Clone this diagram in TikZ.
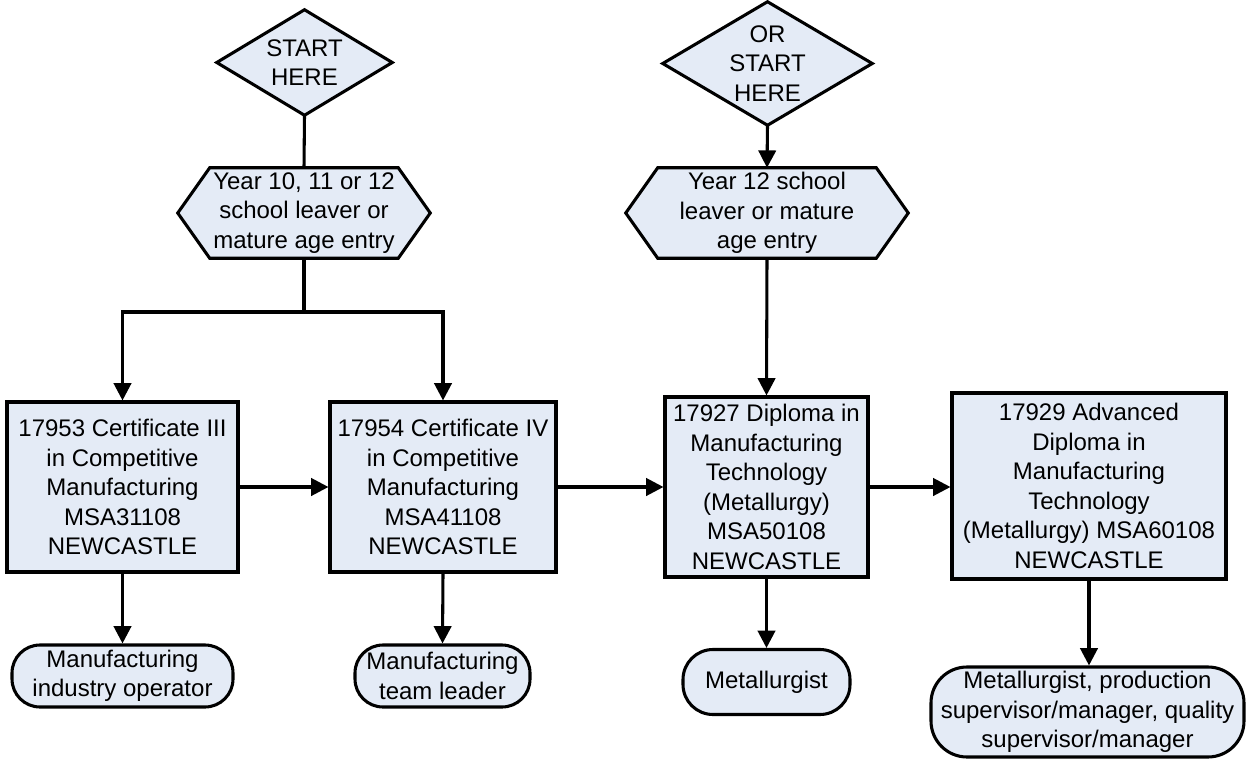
\documentclass[tikz,border=0pt]{standalone}
\usepackage{fontspec}
\setmainfont{Liberation Sans}
\usetikzlibrary{arrows.meta,backgrounds,calc}
\definecolor{bfill}{RGB}{228,235,246}
\newcommand\fs{\fontsize{18}{22.1}\selectfont}
\tikzset{
  txt/.style={font=\fs, align=center, inner sep=0pt},
  sz/.style 2 args={minimum width=#1*0.75pt, minimum height=#2*0.75pt},
  shp/.style={draw=black, fill=bfill, line width=2.3pt, line join=miter},
  boxnode/.style={txt, shp, rectangle},
  ovalnode/.style={txt, shp, rectangle, rounded corners=#1*0.75pt},
  plainline/.style={line width=2.3pt},
  conn/.style={line width=2.3pt, -{Triangle[length=13pt,width=13pt]}},
}
\begin{document}
\begin{tikzpicture}[x=0.75pt,y=-0.75pt]
\useasboundingbox (0,0) rectangle (1250,760);
% start diamonds
\node[txt, sz={175}{105}] (d1) at (304.5,62.5) {START\\HERE};
\node[txt, sz={209}{123}] (d2) at (767.5,63.5) {OR\\START\\HERE};
% entry hexagons
\node[txt, sz={252}{90}] (h1) at (304,213) {Year 10, 11 or 12\\school leaver or\\mature age entry};
\node[txt, sz={282}{90}] (h2) at (767,213) {Year 12 school\\leaver or mature\\age entry};
\begin{scope}[on background layer]
  \draw[shp] (d1.north) -- (d1.east) -- (d1.south) -- (d1.west) -- cycle;
  \draw[shp] (d2.north) -- (d2.east) -- (d2.south) -- (d2.west) -- cycle;
  \draw[shp] (h1.west) -- ([xshift=24pt]h1.north west) -- ([xshift=-24pt]h1.north east) -- (h1.east)
     -- ([xshift=-24pt]h1.south east) -- ([xshift=24pt]h1.south west) -- cycle;
  \draw[shp] (h2.west) -- ([xshift=24pt]h2.north west) -- ([xshift=-24pt]h2.north east) -- (h2.east)
     -- ([xshift=-24pt]h2.south east) -- ([xshift=24pt]h2.south west) -- cycle;
\end{scope}
% qualification boxes
\node[boxnode, sz={231}{170}] (b1) at (122.5,487) {17953 Certificate III\\in Competitive\\Manufacturing\\MSA31108\\NEWCASTLE};
\node[boxnode, sz={226}{170}] (b2) at (443,487) {17954 Certificate IV\\in Competitive\\Manufacturing\\MSA41108\\NEWCASTLE};
\node[boxnode, sz={203}{180}] (b3) at (766.5,487) {17927 Diploma in\\Manufacturing\\Technology\\(Metallurgy)\\MSA50108\\NEWCASTLE};
\node[boxnode, sz={274}{186}] (b4) at (1089,486) {17929 Advanced\\Diploma in\\Manufacturing\\Technology\\(Metallurgy) MSA60108\\NEWCASTLE};
% outcomes
\node[ovalnode=28, sz={221}{62}] (o1) at (122.5,676) {Manufacturing\\industry operator};
\node[ovalnode=28, sz={175}{62}] (o2) at (442.5,676) {Manufacturing\\team leader};
\node[ovalnode=30, sz={167}{65}] (o3) at (766.5,682) {Metallurgist};
\node[ovalnode=36, sz={313}{90}] (o4) at (1087.5,712) {Metallurgist, production\\supervisor/manager, quality\\supervisor/manager};
% connectors
\coordinate (br) at (304,312);
\draw[plainline] (d1.south) -- (h1.north);
\draw[conn] (d2.south) -- (h2.north);
\draw[plainline] (h1.south) -- (br);
\draw[conn] (br) -| (b1.north);
\draw[conn] (br) -| (b2.north);
\draw[conn] (h2.south) -- (b3.north);
\draw[conn] (b1.east) -- (b2.west);
\draw[conn] (b2.east) -- (b3.west);
\draw[conn] (b3.east) -- (b3.east -| b4.west);
\draw[conn] (b1.south) -- (o1.north);
\draw[conn] (b2.south) -- (o2.north);
\draw[conn] (b3.south) -- (o3.north);
\draw[conn] (b4.south) -- (b4.south |- o4.north);
\end{tikzpicture}
\end{document}
